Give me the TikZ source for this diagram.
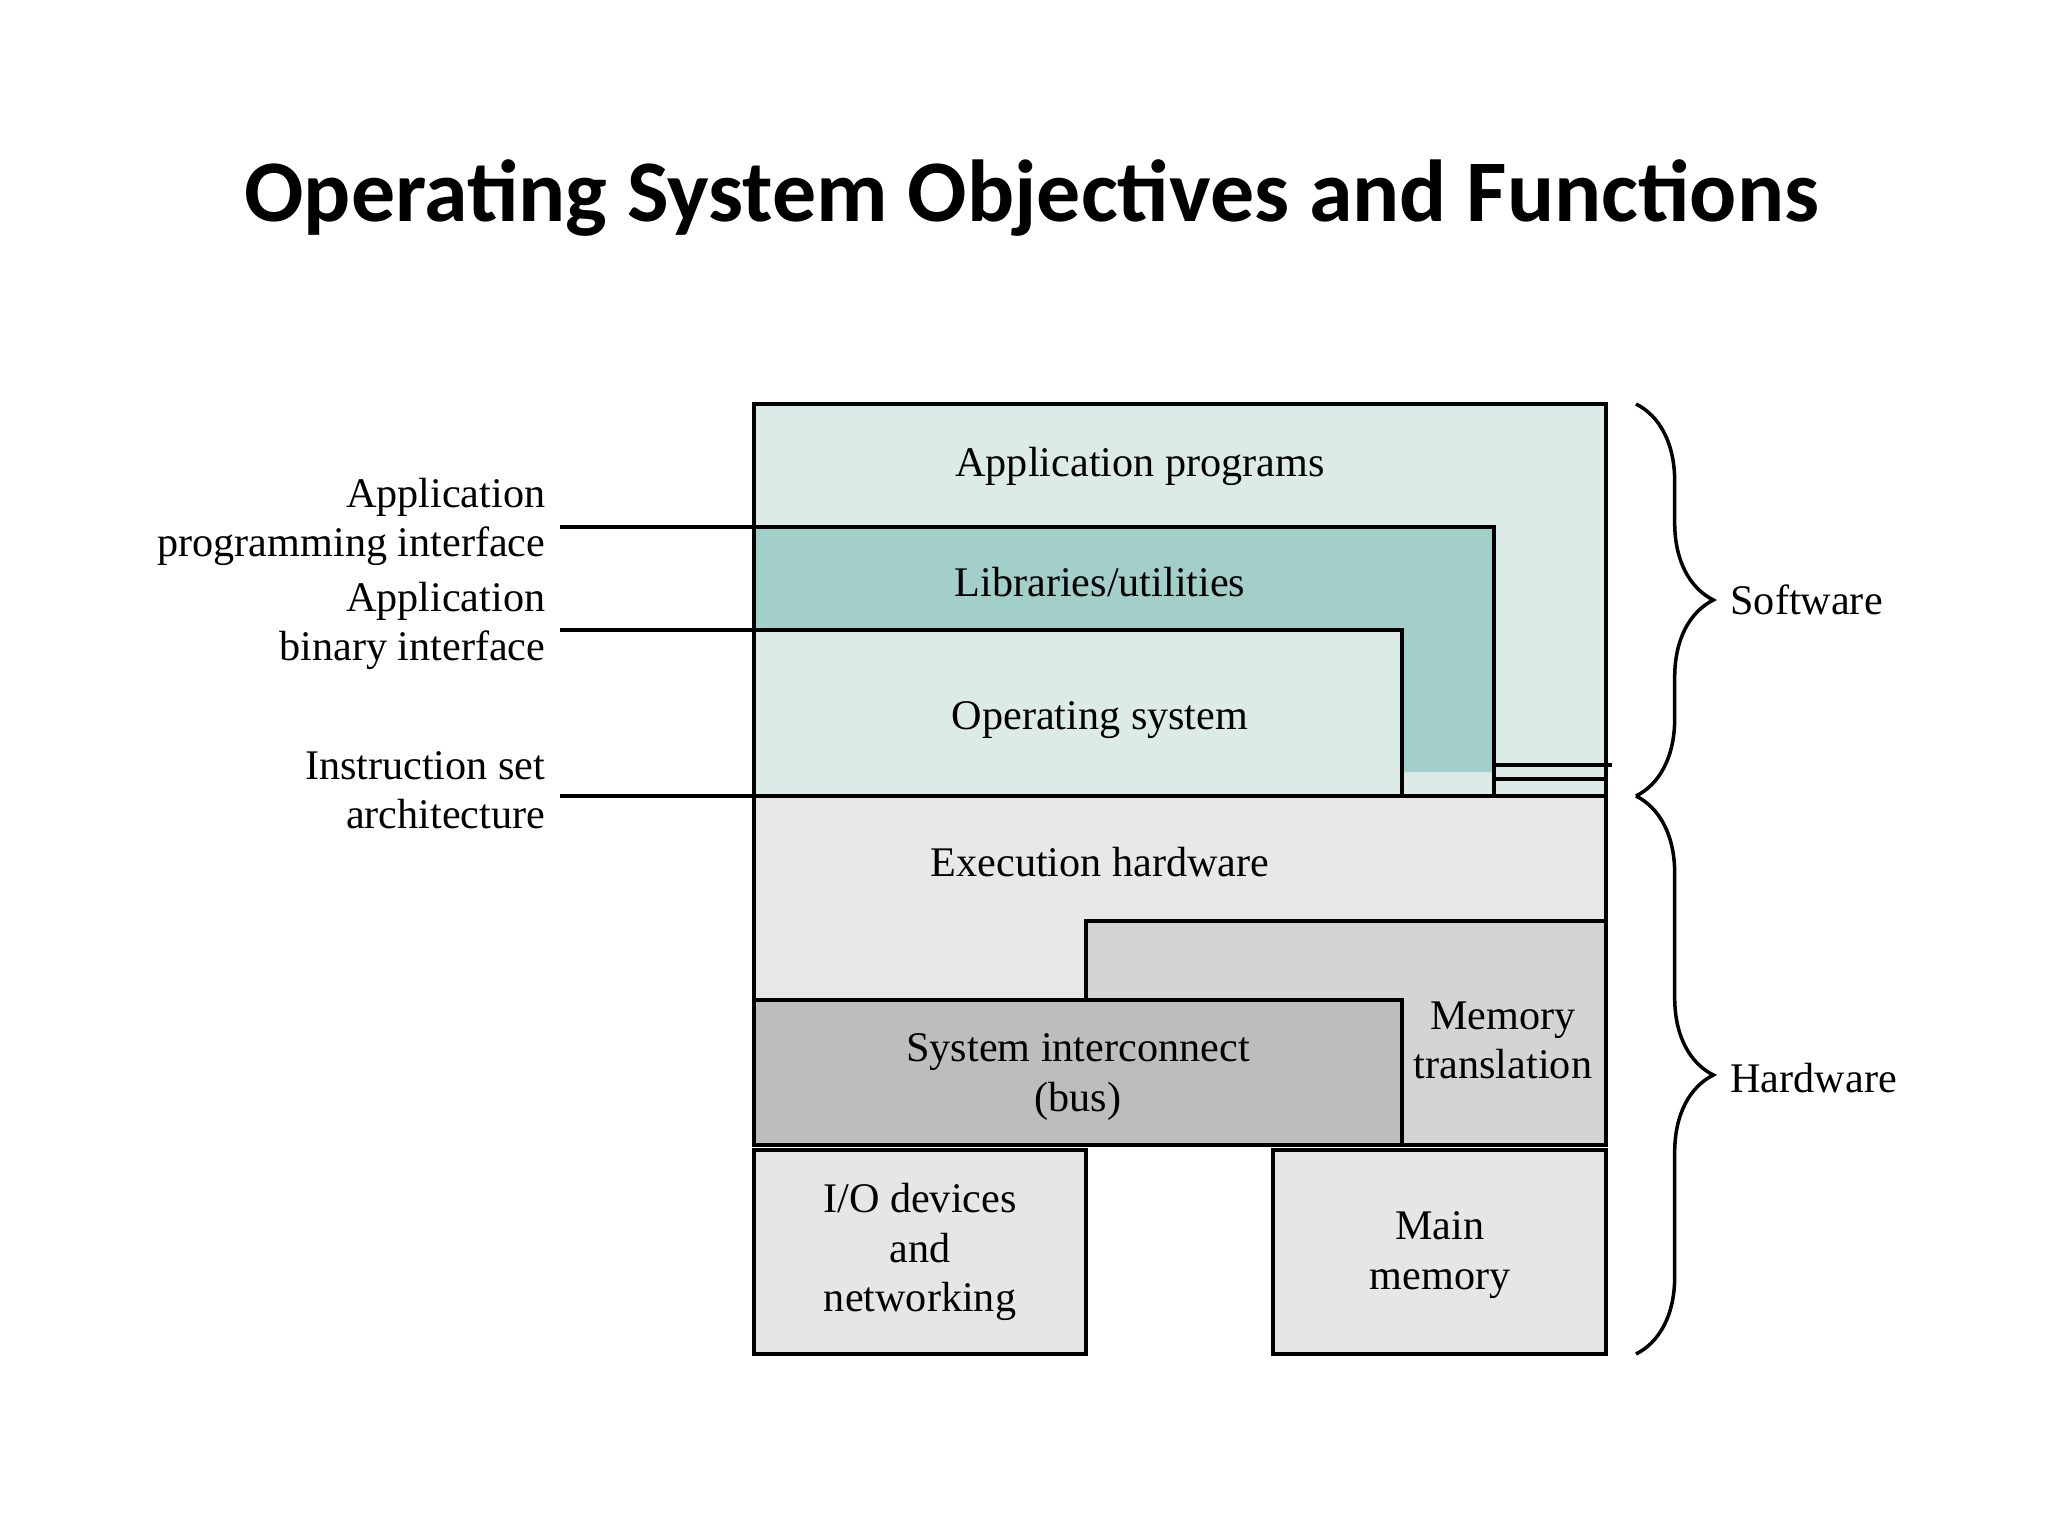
\documentclass[tikz,border=0pt]{standalone}
\usepackage{fontspec}
\setmainfont{Liberation Serif}
\newfontfamily\titlefont{Carlito}
\usetikzlibrary{decorations.pathreplacing}
\definecolor{appteal}{HTML}{DCEBE8}
\definecolor{libteal}{HTML}{A3CFCB}
\definecolor{exegray}{HTML}{E8E8E8}
\definecolor{memgray}{HTML}{D4D4D4}
\definecolor{busgray}{HTML}{BDBDBD}
\definecolor{devgray}{HTML}{E6E6E6}
\tikzset{
  layer/.style={draw=black, line width=1.2pt},
  boxtext/.style={font=\fontsize{12}{14}\selectfont, align=center},
  sidetext/.style={font=\fontsize{12}{14}\selectfont, align=right, anchor=east, inner sep=0pt},
  leader/.style={line width=1.2pt},
  bracket/.style={decorate, decoration={brace, amplitude=22pt}, line width=1pt}
}
\begin{document}
\begin{tikzpicture}[x=0.01cm, y=-0.01cm]
  \useasboundingbox (0,0) rectangle (2048,1536);

  \node[font=\titlefont\bfseries\fontsize{25}{30}\selectfont] (title) at (1032,198) {Operating System Objectives and Functions};

  % software layers
  \fill[appteal] (754,404) rectangle (1606,796);
  \fill[libteal] (754,527) -- (1494,527) -- (1494,772) -- (1402,772) -- (1402,630) -- (754,630) -- cycle;
  \draw[layer] (754,796) -- (754,404) -- (1606,404) -- (1606,796);
  \draw[layer] (754,527) -- (1494,527) -- (1494,796);
  \draw[layer] (754,630) -- (1402,630) -- (1402,796);
  \draw[layer] (1494,765) -- (1612,765);
  \draw[layer] (1494,779) -- (1606,779);

  % hardware layers
  \draw[layer, fill=exegray] (754,796) rectangle (1606,1000);
  \draw[layer, fill=memgray] (1086,1145) -- (1086,921) -- (1606,921) -- (1606,1145) -- cycle;
  \draw[layer, fill=busgray] (754,1000) rectangle (1402,1145);
  \draw[layer, fill=devgray] (754,1150) rectangle (1086,1354);
  \draw[layer, fill=devgray] (1273,1150) rectangle (1606,1354);

  \node[boxtext] (apps) at (1140,466) {Application programs};
  \node[boxtext] (libs) at (1100,582) {Libraries/utilities};
  \node[boxtext] (os) at (1100,720) {Operating system};
  \node[boxtext] (exec) at (1100,862) {Execution hardware};
  \node[boxtext] (bus) at (1078,1077) {System interconnect\\(bus)};
  \node[boxtext] (memtr) at (1503,1040) {Memory\\translation};
  \node[boxtext] (iodev) at (920,1252) {I/O devices\\and\\networking};
  \node[boxtext] (mainmem) at (1440,1255) {Main\\memory};

  % interfaces
  \node[sidetext] (api) at (546,522) {Application\\programming interface};
  \node[sidetext] (abi) at (546,626) {Application\\binary interface};
  \node[sidetext] (isa) at (546,790) {Instruction set\\architecture};
  \coordinate (apiend) at (754,527);
  \coordinate (abiend) at (754,630);
  \coordinate (isaend) at (754,796);
  \draw[leader] (api.east |- apiend) ++(14,0) -- (apiend);
  \draw[leader] (abi.east |- abiend) ++(14,0) -- (abiend);
  \draw[leader] (isa.east |- isaend) ++(14,0) -- (isaend);

  % braces
  \coordinate (swtop) at (1636,404);
  \coordinate (swbot) at (1636,796);
  \coordinate (hwbot) at (1636,1354);
  \draw[bracket] (swtop) -- (swbot);
  \draw[bracket] (swbot) -- (hwbot);
  \node[boxtext, anchor=west] (sw) at (1718,600) {Software};
  \node[boxtext, anchor=west] (hw) at (1718,1078) {Hardware};
\end{tikzpicture}
\end{document}
